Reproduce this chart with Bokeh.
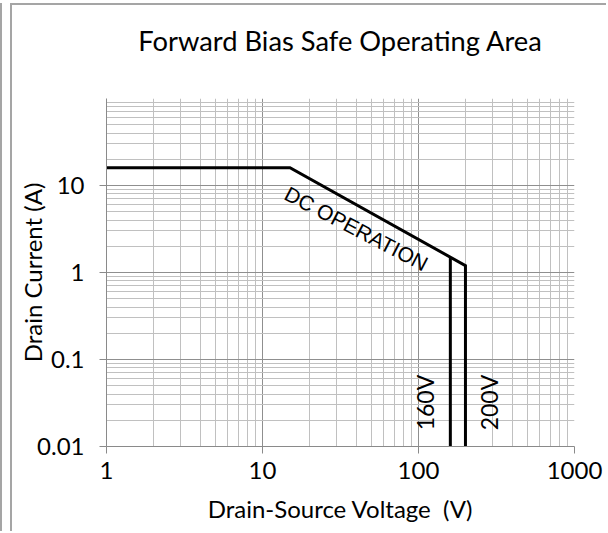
from bokeh.plotting import figure
from bokeh.models import Range1d, FixedTicker, Label
from bokeh.embed import file_html
from bokeh.resources import INLINE

# ---- data ----
voltage_dc = [1, 15, 200, 200]
current_dc = [16, 16, 1.2, 0.01]
voltage_160 = [160, 160]
current_160 = [1.5, 0.01]

x_ticks = [1, 10, 100, 1000]
x_tick_labels = ["1", "10", "100", "1000"]
y_ticks = [0.01, 0.1, 1, 10]
y_tick_labels = ["0.01", "0.1", "1", "10"]
x_decades = [1, 10, 100]
y_decades = [0.01, 0.1, 1, 10]

title_text = "Forward Bias Safe Operating Area"
x_title = "Drain-Source Voltage\u00a0 (V)"
y_title = "Drain Current (A)"
dc_label = ("DC OPERATION", 40, 3.2)
v_labels = [("160V", 110, 0.032), ("200V", 285, 0.032)]

FONT = "Lato"

p = figure(width=596, height=528, x_axis_type="log", y_axis_type="log",
           x_range=Range1d(1, 1000), y_range=Range1d(0.01, 100),
           output_backend="svg", toolbar_location=None,
           min_border_left=94, min_border_right=34, min_border_top=93, min_border_bottom=87,
           title=title_text + "\n ")
p.styles = {"margin-left": "10px", "margin-top": "3px",
            "border-left": "2px solid #a5a5a5", "border-top": "2px solid #a5a5a5",
            "box-shadow": "-8px 0 0 0 #ffffff, -10px 0 0 0 #a5a5a5"}
p.outline_line_color = None
p.background_fill_color = "white"
p.border_fill_color = "white"

p.title.text_font = FONT
p.title.text_font_size = "27.3px"
p.title.text_font_style = "normal"
p.title.text_color = "black"
p.title.align = "center"
p.title.text_line_height = 1.0
p.title.standoff = 18
p.title.offset = -9

x_minor = [m * d for d in x_decades for m in range(2, 10)]
y_minor = [m * d for d in y_decades for m in range(2, 10)] + [100]
p.xaxis.ticker = FixedTicker(ticks=x_ticks, minor_ticks=x_minor)
p.yaxis.ticker = FixedTicker(ticks=y_ticks, minor_ticks=y_minor)
p.xaxis.major_label_overrides = {t: l for t, l in zip(x_ticks, x_tick_labels)}
p.yaxis.major_label_overrides = {t: l for t, l in zip(y_ticks, y_tick_labels)}

for ax in (p.xaxis, p.yaxis):
    ax.axis_line_color = "#8a8a8a"
    ax.axis_line_width = 1
    ax.major_tick_line_color = "#8a8a8a"
    ax.major_tick_out = 7
    ax.major_tick_in = 0
    ax.minor_tick_out = 0
    ax.minor_tick_in = 0
    ax.major_label_text_font = FONT
    ax.major_label_text_font_size = "24px"
    ax.major_label_text_color = "black"
    ax.axis_label_text_font = FONT
    ax.axis_label_text_font_size = "24px"
    ax.axis_label_text_font_style = "normal"
    ax.axis_label_text_color = "black"

p.xaxis.axis_label = x_title
p.yaxis.axis_label = y_title
p.yaxis.major_label_standoff = 15
p.xaxis.major_label_standoff = 8
p.yaxis.axis_label_standoff = -13
p.xaxis.axis_label_standoff = 12
p.xaxis.axis_label_text_line_height = 0.8
p.xaxis.major_label_text_line_height = 0.9

for g in (p.xgrid, p.ygrid):
    g.grid_line_color = "#8f8f8f"
    g.grid_line_width = 1
    g.minor_grid_line_color = "#c0c0c0"
    g.minor_grid_line_width = 1

p.line(voltage_dc, current_dc, line_color="black", line_width=3, line_join="miter")
p.line(voltage_160, current_160, line_color="black", line_width=3, line_join="miter")

p.add_layout(Label(x=dc_label[1], y=dc_label[2], text=dc_label[0], angle=-0.48,
                   text_align="center", text_baseline="middle",
                   text_font="Liberation Sans", text_font_size="21px", text_color="black"))
for txt, xv, yv in v_labels:
    p.add_layout(Label(x=xv, y=yv, text=txt, angle=1.5708,
                       text_align="center", text_baseline="middle",
                       text_font=FONT, text_font_size="23px", text_color="black"))

open("out.html", "w").write(file_html(p, INLINE))
